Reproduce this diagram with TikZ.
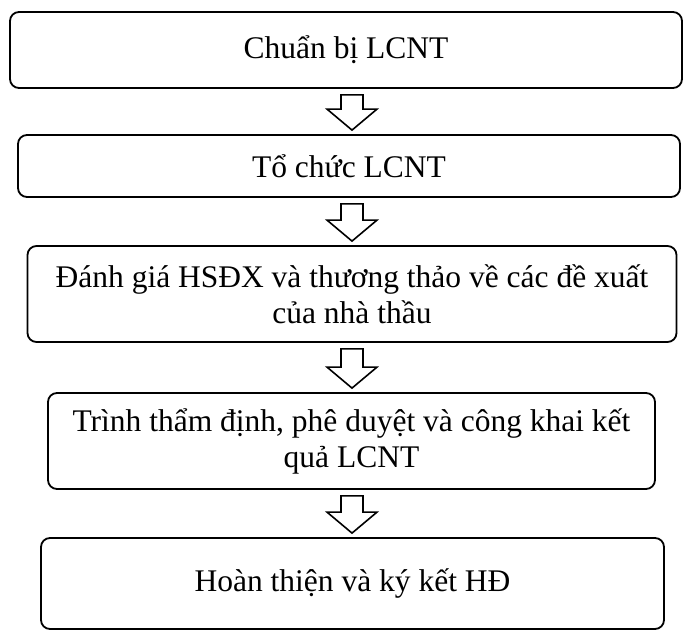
\documentclass[tikz,border=0pt]{standalone}
\usepackage{fontspec}
\setmainfont{Liberation Serif}
\usetikzlibrary{calc}

\tikzset{
    stepbox/.style={draw, line width=1.8pt, rounded corners=9pt, align=center,
        inner sep=0pt, font=\fontsize{31.5}{36}\selectfont},
    blockarrow/.style={draw, line width=1.6pt, fill=white, line join=miter}
}

\begin{document}
\begin{tikzpicture}[x=1pt, y=-1pt]
        \useasboundingbox (0, 0) rectangle (684, 632);

        \node[stepbox, minimum width=672pt, minimum height=76pt] (chuanbi) at (346, 50) {Chuẩn bị LCNT};
        \node[stepbox, minimum width=662pt, minimum height=62pt] (tochuc) at (349, 166) {Tổ chức LCNT};
        \node[stepbox, minimum width=649pt, minimum height=96pt] (danhgia) at (352, 294)
            {Đánh giá HSĐX và thương thảo về các đề xuất\\của nhà thầu};
        \node[stepbox, minimum width=607pt, minimum height=96pt] (trinh) at (351.5, 441)
            {Trình thẩm định, phê duyệt và công khai kết\\quả LCNT};
        \node[stepbox, minimum width=623pt, minimum height=91pt] (hoanthien) at (352.5, 583.5)
            {Hoàn thiện và ký kết HĐ};

        % hollow arrows between the steps
        \foreach \a/\b in {chuanbi/tochuc, tochuc/danhgia, danhgia/trinh, trinh/hoanthien} {
            \path let \p1 = (\a.south), \p2 = (\b.north) in
                [blockarrow] (341pt, \y1-6pt) -- (363pt, \y1-6pt) -- (363pt, \y2+25pt)
                -- (377pt, \y2+25pt) -- (352pt, \y2+4pt) -- (327pt, \y2+25pt)
                -- (341pt, \y2+25pt) -- cycle;
        }
    \end{tikzpicture}
\end{document}
